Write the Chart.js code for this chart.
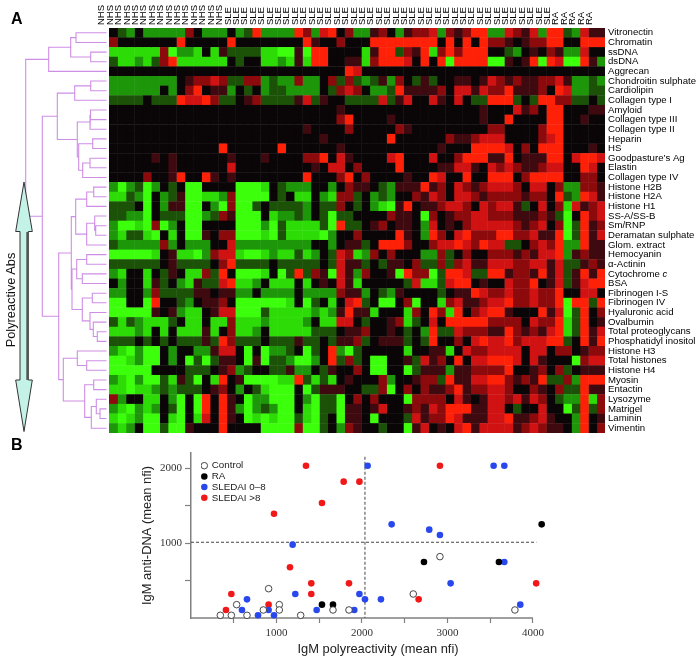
<!DOCTYPE html>
<html>
<head>
<meta charset="utf-8">
<title>IgM polyreactivity</title>
<script src="https://cdn.jsdelivr.net/npm/chart.js@4"></script>
<style>
  html, body { margin: 0; padding: 0; background: #fff; }
  #page { position: relative; width: 700px; height: 659px; overflow: hidden; font-family: "Liberation Sans", Arial, sans-serif; }
  canvas, svg { position: absolute; }
  .panel { position: absolute; left: 11px; font-weight: bold; font-size: 16px; color: #000; }
</style>
</head>
<body>
<div id="page">
  <canvas id="tree" width="109" height="440" style="left:0;top:0"></canvas>
  <canvas id="heat" width="700" height="440" style="left:0;top:0"></canvas>
  <canvas id="scatter" width="700" height="219" style="left:0;top:440px"></canvas>
  <svg width="60" height="440" style="left:0;top:0">
    <path d="M24 182 L32.3 231.5 L28.3 231.5 L28.3 380 L32.3 380 L24 431.5 L15.7 380 L20 380 L20 231.5 L15.7 231.5 Z" fill="#c4f2e6" stroke="#333" stroke-width="1"/>
    <line x1="27.3" y1="232" x2="27.3" y2="380" stroke="#555" stroke-width="2"/>
    <text transform="translate(14.5,300) rotate(-90)" text-anchor="middle" font-family="Liberation Sans" font-size="12.8" fill="#111">Polyreactive Abs</text>
  </svg>
  <div class="panel" style="top:10px">A</div>
  <div class="panel" style="top:436px">B</div>
</div>
<script>
// panel A labels
const sampleLabels = [
    ...Array(15).fill('NHS'),
    ...Array(39).fill('SLE'),
    ...Array(5).fill('RA')
];
const antigens = [
    'Vitronectin', 'Chromatin', 'ssDNA', 'dsDNA', 'Aggrecan', 'Chondroitin sulphate', 'Cardiolipin',
    'Collagen type I', 'Amyloid', 'Collagen type III', 'Collagen type II', 'Heparin', 'HS',
    'Goodpasture\u2019s Ag', 'Elastin', 'Collagen type IV', 'Histone H2B', 'Histone H2A', 'Histone H1',
    'SS-A/SS-B', 'Sm/RNP', 'Deramatan sulphate', 'Glom. extract', 'Hemocyanin', '\u03b1-Actinin',
    'Cytochrome c', 'BSA', 'Fibrinogen I-S', 'Fibrinogen IV', 'Hyaluronic acid', 'Ovalbumin',
    'Total proteoglycans', 'Phosphatidyl inositol', 'Histone H3', 'Total histones', 'Histone H4',
    'Myosin', 'Entactin', 'Lysozyme', 'Matrigel', 'Laminin', 'Vimentin'
];

// heatmap levels, one string per antigen, 59 samples: 0 bright green, 4 black, 8 bright red
const heatRows = [
    '4324222226 4222423822 2286278462 2564256672 6568822765 728832755',
    '6444444484 4444844444 4448544644 4888888884 8484866545 668844888',
    '1111116022 1415333311 0050884444 1588365816 8688844324 546522744',
    '3112136811 1111434411 2151884455 1688874848 0888800545 808700852',
    '4444444444 4444444444 4444444487 4444444444 4444444444 444444444',
    '2222222245 6676336623 2262246363 2352643534 4554576565 566752232',
    '2222224246 8455243423 3222243676 4223855556 4775766855 564872233',
    '3333433387 7863345633 3357354433 3373574475 4743388834 388663343',
    '4444444444 4444444444 4444444544 4444444444 4444544475 648844455',
    '4444444444 4444444444 4444444684 4445444444 4444544844 448844544',
    '4444444444 4444444444 4445444464 4444654444 4444466444 468844444',
    '4444444444 4444444444 4444454444 4448444444 6556777444 467844444',
    '4444444444 4448444444 8444444544 4444444445 4448888746 488844454',
    '4444454544 4444544454 4446684754 4447844474 4688855845 558847887',
    '4444444544 4444744444 4444547746 4444844445 5775476765 567744874',
    '4444644584 4854544444 4448444684 6444454487 4484488846 888844664',
    '2023024340 0444400014 3222442465 5432555856 4765677764 774622665',
    '1132042350 0112600004 3411421663 4232446576 4776566665 664832875',
    '3334042550 0420600343 3332433643 4210584556 7764767753 474617567',
    '3322043330 0236500041 2232430334 4446554064 5667766655 565304867',
    '2001060240 0444400020 3111130833 4564554274 5467777765 674603856',
    '2133104140 0546600010 3111102446 4444854286 4786668866 755803857',
    '3222226242 2244722222 2222442455 3488864467 7876877334 676822855',
    '0000014511 0267710012 1131243761 2646444226 3464466656 577825655',
    '3333334533 3346833334 3333343755 3435546336 3675577766 775733565',
    '2144143541 1638400014 0383650752 6445086603 8873388566 585735858',
    '4244153421 5337811241 1141454751 4444437113 7884544766 845735788',
    '2244263333 5545522422 2242222655 2432544443 4558766766 766844774',
    '0044084432 4556400000 0140341478 3400460441 6755677866 766808838',
    '0000054521 1457700031 1111212585 5144416486 1846788544 485703846',
    '3132111341 1411611121 1112411774 3445613474 8888866664 766813845',
    '1112141411 1514611241 1111333455 6445434283 3766655865 657813857',
    '3334343433 3538633343 3353343556 3455534384 4647877867 778834858',
    '2102004244 2257740402 2340348203 4444414455 1476677774 774664566',
    '0012004240 3035540503 3200248363 4004453756 4847788874 754440677',
    '0000044443 3345623443 3522435446 4004403555 2556666844 564634555',
    '2102003153 0418450000 1183131454 4462445663 8557788656 583362888',
    '1101123233 3456424310 0040355544 3360464655 6856677644 654633855',
    '6244114204 0848540220 0042033046 4644406666 4754577675 764322816',
    '2102124304 0848520232 0041033055 4574456576 8885577434 474403836',
    '1012004104 1748540101 0031034055 4044437566 8755577855 675442845',
    '2124003005 4448444400 0060034265 4434405745 4785777756 765542846'
];

// dendrogram: [merge position, child, child], a bare number is a row of the heatmap
const antigenTree = [25.7,
    [48.7, [70.7, [76, 0, 1], [90.7, 2, 3]], 4],
    [42.3,
        [57.3,
            [74.7, [90.7, 5, 6], 7],
            [77.3, [90, [90.5, 8, 9], 10],
                [78.7, [92.7, 11, 12], [82.7, [90, 13, 14], 15]]]],
        [58.7,
            [71.3,
                [75.7, [86.7, [93.7, 16, 17], 18], [86.7, [94.7, 19, [95.7, 20, 21]], 22]],
                [72, [76.7, [86.7, 23, 24], [82.3, 25, 26]],
                    [82.3, [92.3, 27, 28], [90, 29, [93.3, 30, [97.3, 31, 32]]]]]],
            [63.3,
                [77.3, 33, [86.7, 34, 35]],
                [84.7, [93.7, 36, 37], [91.3, [96.3, 38, [100, 39, 40]], 41]]]]]
];
const treeLeafEnd = 106.5;

// panel B values, [polyreactivity, anti-DNA]
const controlPoints = [[343, 36], [472, 36], [534, 178], [655, 36], [846, 107], [908, 391], [1033, 178], [1033, 107], [1283, 36], [1661, 107], [1848, 107], [2600, 320], [2912, 818], [3789, 107]];
const raPoints = [[1532, 178], [1661, 178], [2725, 747], [3602, 747], [4102, 1249]];
const lowPoints = [[655, 249], [596, 107], [784, 36], [908, 107], [971, 36], [1189, 978], [1220, 320], [1470, 107], [1910, 107], [1970, 320], [2035, 249], [2066, 2031], [2222, 249], [2347, 1249], [2787, 1178], [2912, 1107], [3037, 462], [3540, 2031], [3665, 2031], [3665, 747], [3852, 178]];
const highPoints = [[409, 107], [472, 320], [908, 178], [971, 1391], [1158, 676], [1345, 2031], [1407, 462], [1407, 320], [1532, 1533], [1786, 1818], [1970, 1818], [1848, 462], [2912, 2031], [2663, 249], [4038, 462]];
const cutoffX = 2035;
const cutoffY = 1010;
const xTicks = [500, 1000, 1500, 2000, 2500, 3000, 3500, 4000];
const yTicks = [500, 1000, 1500, 2000];

const levelColors = ['#3cff0c', '#2ddc06', '#1e960a', '#1b5208', '#0a0506', '#3e0a10', '#8c0a0c', '#d01212', '#ff2008'];

Chart.defaults.animation = false;
Chart.defaults.responsive = false;
Chart.defaults.font.family = '"Liberation Sans", Arial, sans-serif';

// parse rows
const heatLevels = heatRows.map(r => r.replace(/ /g, '').split('').map(Number));

// one dataset per sample, bars overlap a little so no seams show
function heatDatasets() {
    return sampleLabels.map((s, col) => ({
        label: s,
        data: heatLevels.map(() => [col, col + 1.06]),
        backgroundColor: heatLevels.map(r => levelColors[r[col]]),
        borderWidth: 0,
        barPercentage: 1.04,
        categoryPercentage: 1,
        grouped: false
    }));
}

// italic c of "Cytochrome c"
const italicLabel = {
    id: 'italicLabel',
    afterDraw(chart) {
        const y = chart.scales.y;
        const i = antigens.indexOf('Cytochrome c');
        const ctx = chart.ctx;
        ctx.save();
        ctx.font = '9.6px "Liberation Sans"';
        const w = ctx.measureText('Cytochrome ').width;
        ctx.font = 'italic 9.6px "Liberation Sans"';
        ctx.fillStyle = '#000';
        ctx.textBaseline = 'middle';
        ctx.fillText('c', y.left + 3 + w, y.getPixelForTick(i));
        ctx.restore();
    }
};

new Chart(document.getElementById('heat'), {
    type: 'bar',
    data: { labels: antigens, datasets: heatDatasets() },
    plugins: [italicLabel],
    options: {
        indexAxis: 'y',
        layout: { padding: { left: 109, bottom: 7, top: 0, right: 0 } },
        plugins: { legend: { display: false }, tooltip: { enabled: false } },
        scales: {
            x: { type: 'linear', min: 0, max: sampleLabels.length, display: false },
            top: {
                type: 'category', axis: 'x', position: 'top', labels: sampleLabels, offset: true,
                grid: { display: false, drawTicks: false }, border: { display: false },
                ticks: { autoSkip: false, maxRotation: 90, minRotation: 90, padding: 3, color: '#000', font: { size: 9.5 } },
                afterFit: s => { s.height = 28; s.paddingLeft = 0; s.paddingRight = 0; }
            },
            y: {
                position: 'right',
                grid: { display: false, drawTicks: false }, border: { display: false },
                ticks: {
                    autoSkip: false, padding: 3, color: '#000', font: { size: 9.6 },
                    callback(v) {
                        const t = this.getLabelForValue(v);
                        return t === 'Cytochrome c' ? 'Cytochrome' : t;
                    }
                },
                afterFit: s => { s.width = 95; s.paddingTop = 0; s.paddingBottom = 0; }
            }
        }
    }
});

// walk the tree, returns the row position of a node and pushes its segments
function treeSegments(node, out) {
    if (typeof node === 'number') return { x: treeLeafEnd, y: node };
    const a = treeSegments(node[1], out);
    const b = treeSegments(node[2], out);
    const x = node[0];
    out.push({ x: a.x, y: a.y }, { x, y: a.y }, { x, y: b.y }, { x: b.x, y: b.y }, { x: NaN, y: NaN });
    return { x, y: (a.y + b.y) / 2 };
}
const treePoints = [];
treeSegments(antigenTree, treePoints);

new Chart(document.getElementById('tree'), {
    type: 'scatter',
    data: { datasets: [{
        data: treePoints, showLine: true, spanGaps: false, pointRadius: 0,
        borderColor: '#cf8ee6', borderWidth: 1.1, clip: false
    }] },
    options: {
        layout: { padding: { top: 28, bottom: 7, left: 0, right: 0 } },
        plugins: { legend: { display: false }, tooltip: { enabled: false } },
        scales: {
            x: { type: 'linear', min: 0, max: 109, display: false },
            y: { type: 'linear', min: -0.5, max: antigens.length - 0.5, reverse: true, display: false }
        }
    }
});

// scatter
function dots(label, data, fill, line, width) {
    return {
        label, data, backgroundColor: fill, borderColor: line, borderWidth: width,
        pointRadius: 3.3, pointStyle: 'circle', showLine: false, clip: false
    };
}
function guide(label, data, color, width, dash) {
    return {
        label, data, showLine: true, pointRadius: 0, borderColor: color,
        borderWidth: width, borderDash: dash, clip: false
    };
}

// the legend sits inside the plot, away from the axis
const moveLegend = {
    id: 'moveLegend',
    afterLayout(chart) {
        chart.legend.left = 200.9;
        chart.legend.top = 19.9;
    }
};

new Chart(document.getElementById('scatter'), {
    type: 'scatter',
    plugins: [moveLegend],
    data: { datasets: [
        dots('Control', controlPoints.map(p => ({ x: p[0], y: p[1] })), '#fff', '#333', 0.9),
        dots('RA', raPoints.map(p => ({ x: p[0], y: p[1] })), '#000', '#000', 0),
        dots('SLEDAI 0\u20138', lowPoints.map(p => ({ x: p[0], y: p[1] })), '#2848ee', '#2848ee', 0),
        dots('SLEDAI >8', highPoints.map(p => ({ x: p[0], y: p[1] })), '#f01818', '#f01818', 0),
        guide('cutoffH', [{ x: 0, y: cutoffY }, { x: 4040, y: cutoffY }], '#444', 1, [3, 2]),
        guide('cutoffV', [{ x: cutoffX, y: 2150 }, { x: cutoffX, y: 0 }], '#444', 1, [3, 2]),
        guide('axis', [{ x: 0, y: 0 }, { x: 4000, y: 0 }], '#808080', 1.5, [])
    ] },
    options: {
        layout: { padding: { left: 130, right: 135, top: 13, bottom: 0 } },
        plugins: {
            tooltip: { enabled: false },
            legend: {
                position: 'chartArea', align: 'start',
                labels: {
                    usePointStyle: true, boxWidth: 5, boxHeight: 4.6, padding: 0.9, color: '#222',
                    font: { size: 9.8 },
                    filter: item => item.datasetIndex < 4
                }
            }
        },
        scales: {
            x: {
                type: 'linear', min: 0, max: 4375,
                grid: { drawOnChartArea: false, tickColor: '#808080', tickWidth: 1.2, tickLength: 5 },
                border: { display: false },
                afterBuildTicks: s => { s.ticks = xTicks.map(v => ({ value: v })); },
                afterFit: s => { s.height = 41; s.paddingLeft = 0; s.paddingRight = 0; },
                ticks: {
                    autoSkip: false, maxRotation: 0, padding: 4, color: '#333',
                    font: { family: '"Liberation Serif"', size: 11 },
                    callback: v => (v % 1000 === 0 ? v : '')
                },
                title: { display: true, text: 'IgM polyreactivity (mean nfi)', font: { size: 12.9 }, color: '#222', padding: { top: 0, bottom: 2.3 } }
            },
            y: {
                type: 'linear', min: 0, max: 2200,
                grid: { drawOnChartArea: false, tickColor: '#808080', tickWidth: 1.2, tickLength: 6 },
                border: { color: '#808080', width: 1.5 },
                afterBuildTicks: s => { s.ticks = yTicks.map(v => ({ value: v })); },
                afterFit: s => { s.width = 61; s.paddingTop = 0; s.paddingBottom = 0; },
                ticks: {
                    padding: 3, color: '#333',
                    font: { family: '"Liberation Serif"', size: 11 },
                    callback: v => (v % 1000 === 0 ? v : '')
                },
                title: { display: true, text: 'IgM anti-DNA (mean nfi)', font: { size: 12.9 }, color: '#222', padding: { top: 10, bottom: 0 } }
            }
        }
    }
});
</script>
</body>
</html>
